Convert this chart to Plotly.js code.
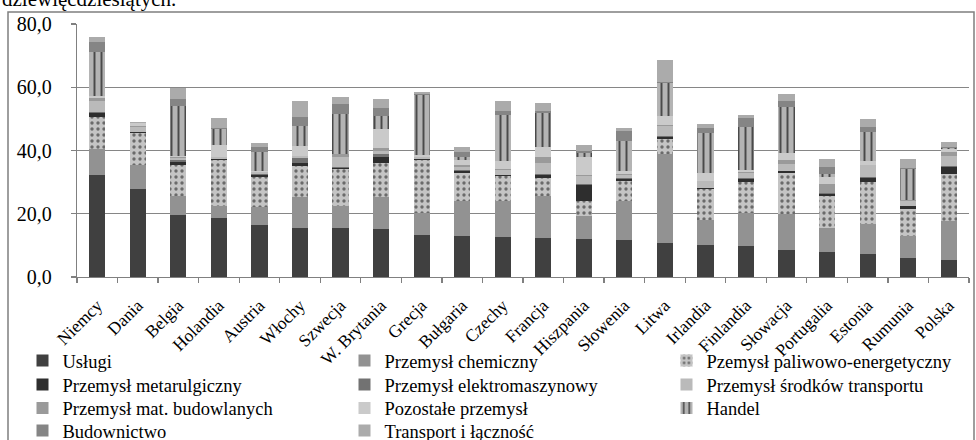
<!DOCTYPE html>
<html>
<head>
<meta charset="utf-8">
<script src="https://cdn.plot.ly/plotly-3.0.1.min.js"></script>
<style>html,body{margin:0;padding:0;background:#fff;}#chart{width:976px;height:440px;}</style>
</head>
<body>
<div id="chart"></div>
<script>
const countries = ['Niemcy','Dania','Belgia','Holandia','Austria','Włochy','Szwecja','W. Brytania','Grecja','Bułgaria','Czechy','Francja','Hiszpania','Słowenia','Litwa','Irlandia','Finlandia','Słowacja','Portugalia','Estonia','Rumunia','Polska'];

const seriesNames = ['Usługi','Przemysł chemiczny','Pzemysł paliwowo-energetyczny','Przemysł metarulgiczny','Przemysł elektromaszynowy','Przemysł środków transportu','Przemysł mat. budowlanych','Pozostałe przemysł','Handel','Budownictwo','Transport i łączność'];

const uslugi  = [32.1, 27.7, 19.6, 18.7, 16.3, 15.5, 15.5, 15.3, 13.3, 13.1, 12.8, 12.4, 12.1, 11.8, 10.7, 10.2, 9.9, 8.4, 7.8, 7.4, 5.9, 5.5];
const chem    = [8.5, 7.6, 6.1, 3.9, 5.7, 9.9, 7.1, 9.9, 7.0, 11.0, 11.1, 13.1, 7.1, 12.1, 28.3, 7.7, 10.3, 11.6, 7.7, 9.5, 7.2, 12.3];
const paliw   = [10.0, 10.1, 9.6, 14.4, 9.6, 9.6, 11.6, 10.8, 16.8, 8.7, 7.9, 5.9, 4.7, 6.6, 4.6, 9.9, 9.7, 12.9, 10.0, 13.1, 8.4, 14.9];
const metal   = [1.3, 0.3, 1.2, 0.2, 0.7, 1.2, 0.4, 2.1, 0.1, 0.8, 0.4, 0.9, 5.2, 0.6, 0.6, 0.3, 1.0, 0.5, 0.7, 1.3, 0.8, 2.2];
const elek    = [0.4, 0.3, 0.4, 0.1, 0.3, 1.5, 0.2, 0.9, 0.1, 0.3, 0.2, 0.2, 0.3, 0.2, 0.3, 0.1, 0.3, 0.2, 0.3, 0.2, 0.2, 0.2];
const srod    = [3.2, 1.5, 0.7, 0.5, 0.5, 0.7, 3.1, 0.9, 0.6, 0.8, 1.5, 3.5, 2.4, 1.0, 3.2, 2.0, 1.8, 2.1, 0.2, 3.8, 1.6, 3.3];
const matbud  = [1.0, 0.3, 0.3, 0.2, 0.2, 0.0, 0.9, 1.0, 0.2, 0.6, 0.3, 1.9, 0.5, 0.3, 0.3, 0.3, 0.3, 1.4, 2.6, 0.2, 0.2, 1.2];
const pozost  = [0.6, 0.8, 0.5, 3.6, 0.3, 2.9, 0.0, 5.9, 0.6, 1.8, 2.5, 3.2, 5.6, 0.8, 2.8, 2.3, 0.6, 2.1, 2.2, 1.3, 0.0, 0.9];
const handel  = [14.0, 0.0, 15.8, 5.1, 5.9, 6.5, 12.8, 4.0, 18.9, 1.0, 14.5, 10.7, 1.3, 9.7, 10.5, 12.6, 13.5, 14.4, 1.1, 8.9, 9.8, 0.4];
const budown  = [3.2, 0.0, 2.2, 0.3, 1.5, 2.9, 3.2, 2.5, 0.2, 1.3, 1.4, 0.8, 0.8, 3.0, 0.5, 1.6, 2.9, 2.1, 2.1, 1.7, 0.5, 0.3];
const transp  = [1.6, 0.4, 3.3, 3.4, 1.4, 5.1, 2.0, 3.1, 0.7, 1.8, 3.1, 2.5, 1.8, 1.1, 6.7, 1.4, 1.0, 2.3, 2.7, 2.5, 2.7, 1.5];

const yTicks = [0, 20, 40, 60, 80];

const seriesValues = [uslugi, chem, paliw, metal, elek, srod, matbud, pozost, handel, budown, transp];
const colors = ['#404040','#929292','#c4c4c4','#2e2e2e','#727272','#bababa','#9a9a9a','#cacaca','#b4b4b4','#858585','#ababab'];
const patterns = [null, null, {shape:'.', bgcolor:'#c4c4c4', fgcolor:'#6a6a6a', size:6, solidity:0.25, fillmode:'replace'},
  null, null, null, null, null, {shape:'|', bgcolor:'#b4b4b4', fgcolor:'#4a4a4a', size:7, solidity:0.28, fillmode:'replace'}, null, null];

const FONT = 'Liberation Serif, Times New Roman, DejaVu Serif, serif';

// legend rows (3 entries per row, each row its own legend)
const legendIds = ['legend', 'legend2', 'legend3', 'legend4'];

const traces = seriesNames.map((name, i) => {
  const m = {color: colors[i], line: {width: 0}};
  if (patterns[i]) m.pattern = patterns[i];
  return {type: 'bar', name: name, x: countries, y: seriesValues[i], marker: m, hoverinfo: 'none',
          legend: legendIds[Math.floor(i / 3)]};
});

// Plot area: x 77..969, y 24..277 (px)
const L = 77, R = 969, T = 24, B = 277;
const W = R - L, H = B - T;
const px = v => (v - L) / W;
const py = v => (B - v) / H;

const rowTops = [342, 366, 389.5, 412];
function legendRow(top) {
  return {
    orientation: 'h', x: px(22.5), xanchor: 'left', y: py(top), yanchor: 'top',
    entrywidth: 277, entrywidthmode: 'pixels', traceorder: 'normal',
    font: {family: FONT, size: 18.5, color: '#000'}, bgcolor: 'rgba(0,0,0,0)',
    itemclick: false, itemdoubleclick: false, tracegroupgap: 0
  };
}

const layout = {
  width: 976, height: 440,
  margin: {l: L, r: 976 - R, t: T, b: 440 - B, autoexpand: false},
  paper_bgcolor: '#fff', plot_bgcolor: '#fff',
  barmode: 'stack', bargap: 0.6,
  separators: ', ',
  font: {family: FONT, color: '#000', size: 18},
  showlegend: true,
  legend: legendRow(rowTops[0]),
  legend2: legendRow(rowTops[1]),
  legend3: legendRow(rowTops[2]),
  legend4: legendRow(rowTops[3]),
  xaxis: {
    type: 'category', tickangle: -45, tickson: 'boundaries',
    ticks: 'outside', ticklen: 5, tickcolor: '#808080', tickwidth: 1.3,
    ticklabelstandoff: 10,
    showline: true, linecolor: '#808080', linewidth: 1.3,
    tickfont: {family: FONT, size: 17.5, color: '#000'},
    showgrid: false, fixedrange: true
  },
  yaxis: {
    range: [0, 80], tickvals: yTicks, tickformat: '.1f',
    ticks: 'outside', ticklen: 5, tickcolor: '#808080', tickwidth: 1.3,
    ticklabelstandoff: 15,
    showline: true, linecolor: '#808080', linewidth: 1.3,
    showgrid: true, gridcolor: '#868686', gridwidth: 1.3,
    zeroline: false,
    tickfont: {family: FONT, size: 20, color: '#000'},
    fixedrange: true
  },
  shapes: [{
    type: 'rect', xref: 'paper', yref: 'paper',
    x0: px(8), x1: px(974), y0: py(460), y1: py(12),
    line: {color: '#7f7f7f', width: 1.5}, fillcolor: 'rgba(0,0,0,0)', layer: 'below'
  }],
  annotations: [{
    xref: 'paper', yref: 'paper', x: px(0), y: py(13), xanchor: 'left', yanchor: 'bottom',
    text: 'dziewięćdziesiątych.', showarrow: false,
    font: {family: FONT, size: 21, color: '#000'}
  }]
};

Plotly.newPlot('chart', traces, layout, {displayModeBar: false, staticPlot: true});
</script>
</body>
</html>
